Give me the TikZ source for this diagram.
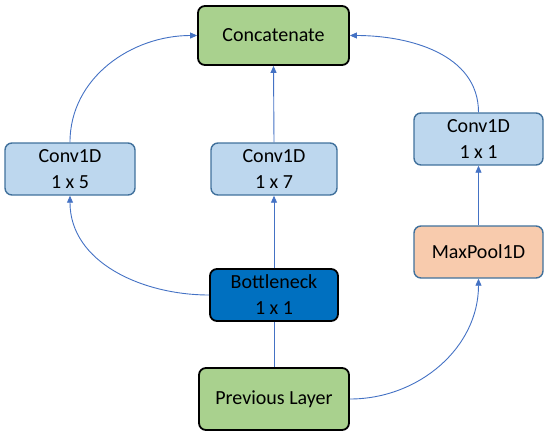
\documentclass[tikz,border=0pt]{standalone}
\usepackage{fontspec}
\setmainfont{Carlito}
\usetikzlibrary{arrows.meta}
\definecolor{grn}{HTML}{A9D18E}
\definecolor{lblue}{HTML}{BDD7EE}
\definecolor{bblue}{HTML}{41719C}
\definecolor{dblue}{HTML}{0070C0}
\definecolor{peach}{HTML}{F8CBAD}
\definecolor{conn}{HTML}{4472C4}
\begin{document}
\begin{tikzpicture}[x=1pt,y=-1pt,
  box/.style={rectangle,rounded corners=7pt,inner sep=0pt,align=center,font=\fontsize{20}{26}\selectfont},
  blk/.style={box,draw=black,line width=1.8pt,fill=grn},
  lb/.style={box,draw=bblue,line width=1.4pt,fill=lblue},
  conn/.style={draw=conn,line width=0.9pt,-{Triangle[length=7pt,width=6pt]}}]
\useasboundingbox (0,0) rectangle (550,437);
\node[blk,minimum width=151pt,minimum height=59pt] (cat) at (273.5,35.5) {Concatenate};
\node[lb,minimum width=130pt,minimum height=52pt] (c5) at (70,169) {Conv1D\\1 x 5};
\node[lb,minimum width=126pt,minimum height=52pt] (c7) at (274,169) {Conv1D\\1 x 7};
\node[lb,minimum width=129pt,minimum height=52pt] (c1) at (478.5,139) {Conv1D\\1 x 1};
\node[box,draw=bblue,line width=1.4pt,fill=peach,minimum width=129pt,minimum height=52pt] (mp) at (478.5,252) {MaxPool1D};
\node[box,draw=black,line width=1.8pt,fill=dblue,minimum width=128pt,minimum height=52pt] (bn) at (274,295) {Bottleneck\\1 x 1};
\node[blk,minimum width=150pt,minimum height=62pt] (pl) at (274,399) {Previous Layer};
\draw[draw=conn,line width=0.9pt] (pl.north) -- (bn.south);
\draw[conn] (bn.north) -- (c7.south);
\draw[conn] (c7.north) -- (cat.south);
\draw[conn] (bn.west) to[out=180,in=-90] (c5.south);
\draw[conn] (c5.north) to[out=90,in=180] (cat.west);
\draw[conn] (pl.east) to[out=0,in=-90] (mp.south);
\draw[conn] (mp.north) -- (c1.south);
\draw[conn] (c1.north) to[out=90,in=0] (cat.east);
\end{tikzpicture}
\end{document}
